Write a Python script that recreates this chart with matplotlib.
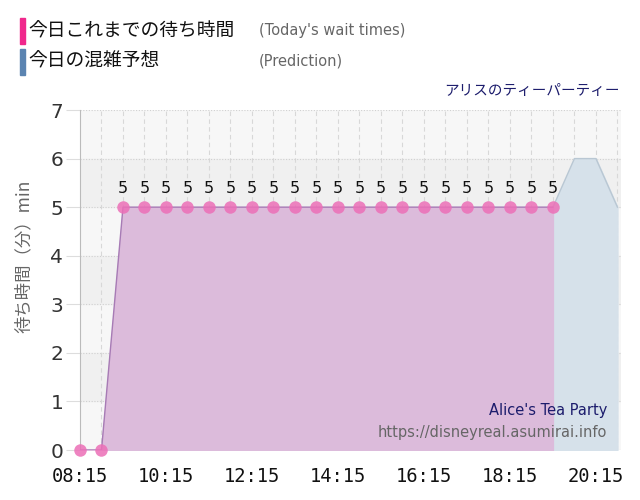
import matplotlib
matplotlib.use("Agg")
import matplotlib.pyplot as plt

plt.rcParams['font.family'] = ['Noto Sans CJK JP', 'DejaVu Sans']

# today's wait times (every 30 min)
times = ["08:15", "08:45", "09:15", "09:45", "10:15", "10:45", "11:15", "11:45",
         "12:15", "12:45", "13:15", "13:45", "14:15", "14:45", "15:15", "15:45",
         "16:15", "16:45", "17:15", "17:45", "18:15", "18:45", "19:15"]
waits = [0, 0, 5, 5, 5, 5, 5, 5, 5, 5, 5, 5, 5, 5, 5, 5, 5, 5, 5, 5, 5, 5, 5]

# prediction for the rest of the day
pred_times = ["19:15", "19:45", "20:15", "20:45"]
pred_waits = [5, 6, 6, 5]

tick_labels = ["08:15", "10:15", "12:15", "14:15", "16:15", "18:15", "20:15"]


def to_min(s):
    h, m = s.split(":")
    return int(h) * 60 + int(m)


x = [to_min(t) for t in times]
px = [to_min(t) for t in pred_times]

fig = plt.figure(figsize=(6.4, 5.0), dpi=100)
ax = fig.add_axes([80 / 640, 50 / 500, 541 / 640, 340 / 500])

ax.set_xlim(to_min("08:15"), to_min("20:50"))
ax.set_ylim(0, 7)
ax.set_facecolor("#f7f7f7")
for y0 in range(1, 7, 2):
    ax.axhspan(y0, y0 + 1, color="#f0f0f0", zorder=0)

# grid
minor = list(range(to_min("08:45"), to_min("20:50"), 30))
for m in minor:
    ax.axvline(m, color="#d8d8d8", lw=0.8, ls=(0, (4, 3)), zorder=1)
for yv in range(0, 8):
    ax.axhline(yv, color="#d0d0d0", lw=0.8, ls=(0, (1, 1.5)), zorder=1)

# prediction area
ax.fill_between(px, pred_waits, 0, color="#d6e1ea", zorder=2)
ax.plot(px, pred_waits, color="#b9c7d3", lw=1, zorder=2)

# actual waits area
ax.fill_between(x, waits, 0, color="#dcbbdb", zorder=3)
ax.plot(x, waits, color="#a77bb5", lw=1, zorder=4)
ax.plot(x, waits, "o", color="#ec6fb7", alpha=0.85, ms=9, mec="none",
        zorder=5, clip_on=False)
for xi, yi in zip(x, waits):
    if yi > 0:
        ax.text(xi, yi + 0.22, str(yi), ha="center", va="bottom",
                fontsize=11.5, color="#111111", zorder=6, family="DejaVu Sans")

ax.set_xticks([to_min(t) for t in tick_labels])
ax.set_xticklabels(tick_labels, fontsize=13.5, color="#111111",
                   family="DejaVu Sans Mono")
ax.set_yticks(range(0, 8))
ax.set_yticklabels([str(v) for v in range(0, 8)], fontsize=14.5, color="#333333",
                   family="DejaVu Sans")
ax.tick_params(axis="y", length=10, color="#dddddd", pad=2)
ax.tick_params(axis="x", length=0, pad=12)
for s in ["top", "right", "bottom"]:
    ax.spines[s].set_visible(False)
ax.spines["left"].set_color("#bbbbbb")

ax.set_ylabel("待ち時間（分）min", fontsize=12.5, color="#666666")
ax.yaxis.set_label_coords(-0.087, 0.57)

# legend-like header
fig.patches.append(plt.Rectangle((20 / 640, 1 - 44 / 500), 5 / 640, 26 / 500,
                                 transform=fig.transFigure, color="#f0288c"))
fig.patches.append(plt.Rectangle((20 / 640, 1 - 75 / 500), 5 / 640, 26 / 500,
                                 transform=fig.transFigure, color="#5b84b1"))
fig.text(28 / 640, 1 - 31 / 500, "今日これまでの待ち時間", fontsize=13.5,
         va="center", color="#111111")
fig.text(259 / 640, 1 - 31 / 500, "(Today's wait times)", fontsize=10.5,
         va="center", color="#666666", family="DejaVu Sans")
fig.text(28 / 640, 1 - 61 / 500, "今日の混雑予想", fontsize=13.5,
         va="center", color="#111111")
fig.text(259 / 640, 1 - 61 / 500, "(Prediction)", fontsize=10.5,
         va="center", color="#666666", family="DejaVu Sans")
fig.text(620 / 640, 1 - 91 / 500, "アリスのティーパーティー", fontsize=10.5,
         ha="right", va="center", color="#1c1c6c")

ax.text(0.975, 0.115, "Alice's Tea Party", transform=ax.transAxes, ha="right",
        va="center", fontsize=10.5, color="#1c1c6c", zorder=7,
        family="DejaVu Sans")
ax.text(0.975, 0.05, "https://disneyreal.asumirai.info", transform=ax.transAxes,
        ha="right", va="center", fontsize=10.5, color="#666666", zorder=7,
        family="DejaVu Sans")

fig.savefig("out.png", dpi=100)
